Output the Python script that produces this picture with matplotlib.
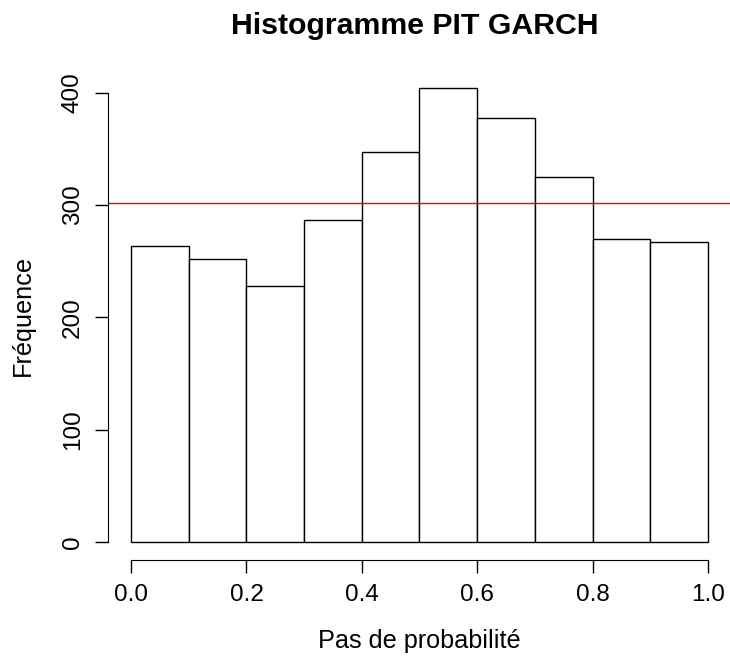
import matplotlib
matplotlib.use('Agg')
import matplotlib.pyplot as plt
import numpy as np

# PIT histogram counts
bin_edges = [0.0, 0.1, 0.2, 0.3, 0.4, 0.5, 0.6, 0.7, 0.8, 0.9, 1.0]
counts = [263, 252, 228, 287, 347, 404, 377, 325, 270, 267]
expected = 302  # horizontal reference line (mean count)
x_ticks = [0.0, 0.2, 0.4, 0.6, 0.8, 1.0]
y_ticks = [0, 100, 200, 300, 400]

plt.rcParams['font.family'] = ['Liberation Sans', 'DejaVu Sans']

fig = plt.figure(figsize=(7.3, 6.6), dpi=100)
ax = fig.add_axes([108 / 730, 100 / 660, 623 / 730, 490 / 660])

widths = np.diff(bin_edges)
ax.bar(bin_edges[:-1], counts, width=widths, align='edge',
       color='white', edgecolor='black', linewidth=1.0)
ax.axhline(expected, color='red', linewidth=1.0)

ax.set_xlim(-0.04, 1.04)
ax.set_ylim(-0.04 * max(counts), 1.04 * max(counts))

for s in ['top', 'right']:
    ax.spines[s].set_visible(False)
ax.spines['left'].set_bounds(0, 400)
ax.spines['bottom'].set_bounds(0, 1)

ax.set_xticks(x_ticks)
ax.set_xticklabels([f'{v:.1f}' for v in x_ticks])
ax.set_yticks(y_ticks)
ax.set_yticklabels([str(v) for v in y_ticks], rotation=90, va='center')
ax.tick_params(direction='out', length=9.5, width=1.0, labelsize=17.5, pad=8)

ax.set_xlabel('Pas de probabilité', fontsize=18.2, labelpad=16)
ax.set_ylabel('Fréquence', fontsize=18.2, labelpad=19)
fig.text(0.568, 0.960, 'Histogramme PIT GARCH', fontsize=21.8, fontweight='bold',
         ha='center', va='center')

fig.savefig('out.png', dpi=100)
